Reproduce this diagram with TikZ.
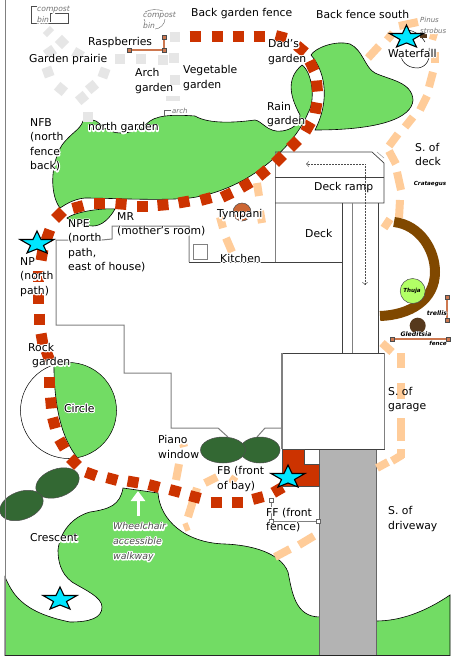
\documentclass[tikz,border=0pt]{standalone}
\usepackage{fontspec}
\usepackage{xcolor}
\setmainfont{DejaVu Sans}
\usetikzlibrary{arrows.meta}
\definecolor{lawngreen}{RGB}{114,220,100}
\definecolor{shrubgreen}{RGB}{51,104,51}
\definecolor{brickred}{RGB}{204,51,0}
\definecolor{peachpath}{RGB}{255,204,153}
\definecolor{stonegrey}{RGB}{230,230,230}
\definecolor{drivegrey}{RGB}{179,179,179}
\definecolor{barkbrown}{RGB}{128,72,0}
\definecolor{fenceorange}{RGB}{205,120,80}
\definecolor{starcyan}{RGB}{0,230,255}
% white glow behind a label
\newcommand{\halo}[2][2.2]{\leavevmode\rlap{\special{pdf:code #1 w 1 j 1 1 1 RG 2 Tr}\textcolor{white}{#2}\special{pdf:code 0 Tr 1 w 0 0 0 RG}}#2}
\tikzset{
    place/.style={anchor=west, inner sep=0pt, align=left, font=\fontsize{10.8}{14.5}\selectfont},
    smalltext/.style={anchor=west, inner sep=0pt, align=left, text=black!55, font=\fontsize{7.6}{11}\selectfont\itshape},
    planttext/.style={anchor=center, inner sep=0pt, font=\fontsize{5.6}{7}\selectfont\bfseries\itshape},
    garden/.style={fill=lawngreen, draw=black, line width=0.6pt},
    house/.style={draw=black!50, line width=1pt},
    deckline/.style={draw=black!75, line width=0.7pt},
    shrub/.style={fill=shrubgreen, draw=black!70, line width=0.5pt},
    brick/.style={draw=brickred, line width=11pt},
    peach/.style={draw=peachpath, line width=8pt},
    stone/.style={draw=stonegrey, line width=10pt},
    rail/.style={draw=fenceorange, line width=1.6pt},
    railend/.style={fill=fenceorange, draw=black!70, line width=0.5pt},
    handle/.style={fill=white, draw=black!60, line width=0.5pt},
    gardenstar/.style={fill=starcyan, draw=black, line width=1.1pt, line join=miter},
}
\newcommand{\railpost}[2]{\filldraw[railend] (#1-2,#2-2) rectangle (#1+2,#2+2);}
\newcommand{\handlepost}[2]{\filldraw[handle] (#1-2,#2-2) rectangle (#1+2,#2+2);}
\newcommand{\markstar}[2]{\filldraw[gardenstar,shift={(#1,#2)}] (0,-12) -- (4,-3.5) -- (17,-3.5) -- (6.5,2.5) -- (10,10) -- (0,6) -- (-10,10) -- (-6.5,2.5) -- (-17,-3.5) -- (-4,-3.5) -- cycle;}
\begin{document}
\begin{tikzpicture}[x=1pt, y=-1pt]
    \useasboundingbox (0,0) rectangle (450,656);
    \fill[white] (0,0) rectangle (450,656);

    % Front lawn and driveway
    \draw[garden] (5,577) .. controls (12,592) and (20,612) .. (70,622)
        .. controls (90,622) and (102,618) .. (102,607)
        .. controls (102,597) and (85,590) .. (72,582)
        .. controls (60,573) and (58,560) .. (58,550)
        .. controls (60,532) and (72,517) .. (90,512)
        .. controls (110,509) and (120,505) .. (123,488)
        -- (158,493)
        .. controls (160,520) and (185,543) .. (225,544)
        .. controls (250,545) and (280,552) .. (288,572)
        .. controls (292,592) and (295,617) .. (320,617)
        -- (376,621)
        .. controls (400,621) and (425,612) .. (450,595)
        -- (450,656) -- (5,656) -- cycle;
    \draw[fill=drivegrey, draw=black!60, line width=0.8pt] (319,449) rectangle (376,656);

    % Circle
    \fill[white] (68.5,410.5) circle (48);
    \begin{scope}
        \clip (68.5,410.5) circle (48);
        \draw[garden] (54,355) .. controls (53,400) and (60,435) .. (76,456) -- (85,470) -- (130,470) -- (130,355) -- cycle;
    \end{scope}
    \draw[line width=0.5pt] (68.5,410.5) circle (48);

    % Back gardens
    \draw[garden] (83,121) .. controls (90,119) and (95,119) .. (100,124)
        .. controls (108,134) and (130,139) .. (150,121)
        .. controls (160,114) and (180,115) .. (195,116)
        .. controls (210,125) and (240,122) .. (255,120)
        .. controls (262,121) and (268,133) .. (282,131)
        .. controls (290,130) and (300,125) .. (300,115)
        .. controls (292,100) and (284,80) .. (302,65)
        .. controls (312,72) and (316,100) .. (308,113)
        .. controls (295,145) and (250,190) .. (190,198)
        .. controls (160,201) and (110,198) .. (85,198)
        .. controls (72,199) and (62,207) .. (60,208)
        .. controls (50,195) and (50,165) .. (62,145)
        .. controls (72,132) and (80,130) .. (83,121) -- cycle;
    \draw[garden] (311,55) .. controls (315,48) and (335,40) .. (350,44)
        .. controls (363,50) and (365,68) .. (375,73)
        .. controls (390,80) and (412,82) .. (413,100)
        .. controls (412,118) and (380,130) .. (315,130)
        .. controls (328,105) and (328,75) .. (311,55) -- cycle;
    \draw[garden] (67,218) .. controls (75,212) and (100,208) .. (115,209)
        .. controls (110,218) and (102,226) .. (93,226)
        .. controls (82,226) and (72,222) .. (67,218) -- cycle;

    % House outline
    \draw[house] (56,240) -- (56,325) -- (124,325) -- (124,373) -- (171,373) -- (171,428) -- (218,428) -- (228,437);
    \draw[house] (56,240) -- (102,240) -- (112,239) -- (112,226) -- (189,226) -- (189,262);
    \draw[deckline] (189,262) -- (342,262) -- (342,353);
    \draw[house] (257,437) -- (265,428) -- (282,428);
    \draw[house] (193,244) rectangle (207,259);

    % Deck and garage
    \draw[house] (275,262) -- (275,152);
    \draw[deckline] (275,152) -- (372,152) -- (384,163) -- (384,203) -- (275,203);
    \draw[deckline] (275,177) -- (384,177);
    \draw[draw=black!40, line width=0.5pt] (377,152) -- (384,158);
    \draw[deckline] (342,203) -- (342,262);
    \draw[house, line width=0.7pt] (352,203) -- (352,353);
    \draw[deckline] (378,203) -- (378,353);
    \draw[deckline, fill=white] (282,353) rectangle (384,449);
    \draw[draw=black!50, line width=1.2pt] (282,353) -- (282,449);
    \draw[draw=black!50, line width=0.8pt] (384,353) -- (384,449);
    \coordinate (rampturn) at (365,164);
    \coordinate (rampend) at (306,164);
    \coordinate (rampfoot) at (365,285);
    \draw[densely dotted, draw=black!70, line width=0.5pt, ->] (rampturn) -- (rampend);
    \draw[densely dotted, draw=black!70, line width=0.5pt, ->] (rampturn) -- (rampfoot);

    % Bay
    \draw[fill=brickred, draw=black!70, line width=0.5pt] (282,449) -- (304,449) -- (304,464) -- (319,464) -- (319,486) -- (282,486) -- cycle;

    % Bushes
    \draw[shrub, rotate around={20:(57.5,483)}] (57.5,483) ellipse (22.5 and 14);
    \draw[shrub, rotate around={20:(21.5,505.5)}] (21.5,505.5) ellipse (22.5 and 14);
    \draw[shrub] (260,450) ellipse (20 and 13);
    \draw[shrub] (223,450) ellipse (22.5 and 13);

    % Prairie stones
    \foreach \x/\y/\a in {62/42/45,50/52/35,78/54/-30,48/72/20,104/73/-20,61/89/-40,92/87/-50,82/98/40,88/117/0,
        120/59/0,141/59/0,163/60/0,175/37/0,174/58/0,175/80/0}
        \draw[stone, rotate around={\a:(\x,\y)}] (\x-5,\y) -- (\x+5,\y);
    \draw[stone, line width=6pt] (45,35) -- (52,28);
    \draw[stone, line width=5pt] (166,98) -- (180,98);

    % Peach walk
    \foreach \xa/\ya/\xb/\yb in {368/58/379/46,387/40/393/33,399/26/418/22,430/35/437/37,435/52/435/63,
        433/72/429/87,427/96/420/110,413/117/405/127,398/134/389/146,389/151/396/164,397/172/401/190,400/200/399/218,
        390/219/384/228,382/343/392/352,401/353/401/368,401/383/401/399,401/418/401/441,401/449/401/458,402/455/392/461,
        388/462/377/468,314/536/299/545,290/549/275/557,
        257/183/259/196,260/211/262/223,220/217/223/228,226/238/232/252,
        183/443/184/447,179/464/176/480,197/488/188/517,189/526/184/528,205/483/217/477,230/478/236/482}
        \draw[peach] (\xa,\ya) -- (\xb,\yb);

    % Brick walk
    \foreach \x/\y/\a in {195/36/0,217/36/0,238/36/0,259/36/0,281/37/-15,301/49/-40,312/66/-65,317/86/-85,316/108/-100,
        308/127/-120,294/144/-135,279/159/-135,263/173/-140,246/185/-150,227/195/-155,206/199/-165,184/202/-170,163/205/-175,
        142/206/180,121/204/175,99/203/180,78/207/195,59/215/225,48/235/250,42/255/260,38/276/270,38/298/270,39/319/270,
        42/339/280,48/356/290,49/382/270,51/403/275,54/423/285,62/444/300,74/462/315,91/474/340,112/479/345,133/482/350,
        154/486/345,175/491/345,195/497/345,216/502/360,237/502/360,258/498/15,278/490/30}
        \draw[brick, rotate around={\a:(\x,\y)}] (\x-5.5,\y) -- (\x+5.5,\y);

    % Plantings
    \draw[barkbrown, line width=10pt] (394,222) .. controls (420,225) and (435,250) .. (435,272)
        .. controls (435,300) and (410,315) .. (380,316);
    \draw[fill=green!50!yellow!60, draw=black!70, line width=0.5pt] (412.7,291) circle (12.5);
    \fill[brown!45!black] (417.7,325.7) circle (8);
    \draw[fill=brown!80!red, draw=black!70, line width=0.5pt] (242,212) circle (9);

    % Pond
    \draw[line width=0.5pt] (400,53) .. controls (402,66) and (412,68) .. (418,68)
        .. controls (426,67) and (431,60) .. (429,48);
    \draw[line width=0.5pt] (408,30) .. controls (414,31) and (420,34) .. (425,42);
    \draw[brown!45!black, line width=3.5pt] (420,36) -- (427,36);

    % Fences
    \coordinate (rasptop) at (164,37);
    \coordinate (raspturn) at (164,50);
    \coordinate (raspend) at (129,50);
    \draw[rail] (rasptop) -- (raspturn) -- (raspend);
    \railpost{164}{37} \railpost{164}{50} \railpost{129}{50}
    \coordinate (trellistop) at (447,297);
    \coordinate (trellisend) at (447,320);
    \draw[rail] (trellistop) -- (trellisend);
    \railpost{447}{297} \railpost{447}{320}
    \coordinate (fencestart) at (392,339);
    \coordinate (fenceend) at (448,339);
    \draw[rail] (fencestart) -- (fenceend);
    \railpost{392}{339} \railpost{448}{339}

    % Front fence handles
    \coordinate (fftop) at (271,500);
    \coordinate (ffcorner) at (271,521);
    \coordinate (ffend) at (318,521);
    \draw[draw=black!50, line width=0.5pt] (fftop) -- (ffcorner) -- (ffend);
    \handlepost{271}{500} \handlepost{271}{521} \handlepost{318}{521}

    % Compost bins and arch
    \draw[draw=black!70, line width=0.6pt] (37,6) -- (31,6) -- (31,23) -- (68,23) -- (68,13) -- (50,13) -- (50,22);
    \draw[draw=black!60, line width=0.4pt] (145,12) .. controls (150,9) and (158,9) .. (163,11);
    \draw[draw=black!60, line width=0.4pt] (165,19) .. controls (165,24) and (160,29) .. (155,29);
    \draw[draw=black!60, line width=0.4pt] (144,19) -- (146,24);
    \draw[draw=black!60, line width=0.6pt] (164,116) -- (164,110) -- (171,110);

    % Lawn arrow
    \coordinate (chairfoot) at (138,516);
    \coordinate (chairtip) at (138,491);
    \draw[white, line width=3pt, -{Triangle[length=10pt,width=14pt]}] (chairfoot) -- (chairtip);

    % Labels
    \node[place] (fence) at (191,14) {Back garden fence};
    \node[place] (south) at (316,14) {Back fence south};
    \node[place] (rasp) at (88,43) {\halo{Raspberries}};
    \node[place] (prairie) at (29,60) {\halo{Garden prairie}};
    \node[place] (arch) at (135,81) {Arch\\garden};
    \node[place] (veg) at (183,78) {Vegetable\\garden};
    \node[place] (dads) at (268,52) {\halo{Dad's}\\\halo{garden}};
    \node[place] (waterfall) at (388,53) {\halo{Waterfall}};
    \node[place] (rain) at (267,114.5) {\halo{Rain}\\\halo{garden}};
    \node[place] (nfb) at (30,145) {NFB\\\halo{(north}\\\halo{fence}\\\halo{back)}};
    \node[place] (north) at (88,128) {\halo{north garden}};
    \node[place] (sdeck) at (415,154.5) {S. of\\deck};
    \node[place] (ramp) at (314,188) {Deck ramp};
    \node[place] (deck) at (305,233) {Deck};
    \node[place] (tympani) at (217,215) {\halo{Tympani}};
    \node[place] (kitchen) at (220,258) {\halo{Kitchen}};
    \node[place] (mr) at (117,224.5) {\halo{MR}\\\halo{(mother's room)}};
    \node[place] (npe) at (68,246) {\halo{NPE}\\\halo{(north}\\\halo{path,}\\east of house)};
    \node[place] (np) at (20,277) {NP\\\halo{(north}\\\halo{path)}};
    \node[place] (rock) at (28,355.5) {\halo{Rock}\\\hspace{4pt}\halo{garden}};
    \node[place] (circle) at (64,408) {\halo{Circle}};
    \node[place] (piano) at (158,447) {\halo{Piano}\\\halo{window}};
    \node[place] (fb) at (217,479) {\halo{FB (front}\\\halo{of bay)}};
    \node[place] (ff) at (266,520) {\halo{FF (front}\\\halo{fence)}};
    \node[place] (sgarage) at (388,399.5) {S. of\\garage};
    \node[place] (sdrive) at (388,519) {S. of\\driveway};
    \node[place] (crescent) at (30,538) {\halo{Crescent}};
    \node[place, text=black!70, font=\fontsize{9.4}{14.7}\selectfont\itshape] (chair) at (113,542) {\halo[2.4]{Wheelchair}\\\halo[2.4]{accessible}\\\halo[2.4]{walkway}};
    \node[smalltext] (bina) at (37,14.5) {\halo{compost}\\\halo{bin}};
    \node[smalltext] (binb) at (143,20.5) {\halo{compost}\\\halo{bin}};
    \node[smalltext, font=\fontsize{7}{11}\selectfont\itshape] (archtag) at (172,111) {arch};
    \node[smalltext, font=\fontsize{7}{11}\selectfont\itshape] (pinus) at (420,25) {\halo{Pinus}\\\halo{strobus}};
    \node[planttext] (crataegus) at (430,184) {Crataegus};
    \node[planttext] (thuja) at (412,291) {Thuja};
    \node[planttext, font=\fontsize{6.2}{7}\selectfont\bfseries\itshape] (gleditsia) at (416,334) {\halo[1]{Gleditsia}};
    \node[planttext, font=\fontsize{6.2}{7}\selectfont\bfseries\itshape] (trellis) at (437,313) {\halo[1]{trellis}};
    \node[planttext] (fencetag) at (438,343) {\halo[1]{fence}};

    % Stars
    \markstar{406.5}{37}
    \markstar{37}{243}
    \markstar{288}{477}
    \markstar{60}{599}

    % Frame
    \draw[draw=black!50, line width=1pt] (5,0) -- (5,656);
    \draw[draw=black!85, line width=0.8pt] (5,655.5) -- (450,655.5);
\end{tikzpicture}
\end{document}
